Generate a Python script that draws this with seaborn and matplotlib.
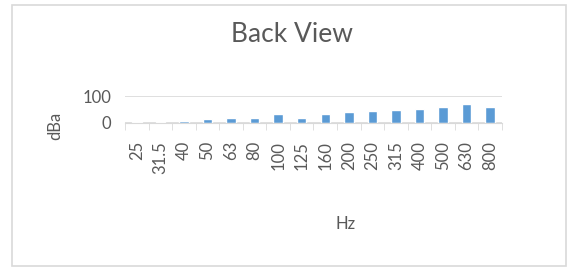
import seaborn as sns
import matplotlib.pyplot as plt
import matplotlib.patches as patches
import pandas as pd

# data
freqs = ["25", "31.5", "40", "50", "63", "80", "100", "125", "160",
         "200", "250", "315", "400", "500", "630", "800"]
dba = [5, 4, 6, 15, 17, 20, 35, 20, 32, 39, 45, 47, 52, 59, 70, 61]

df = pd.DataFrame({"Hz": freqs, "dBa": dba})

sns.set_style("white")
plt.rcParams["font.family"] = ["Lato", "DejaVu Sans"]

fig = plt.figure(figsize=(5.71, 2.69), dpi=100)
ax = fig.add_axes([0.219, 0.543, 0.66, 0.1])

sns.barplot(data=df, x="Hz", y="dBa", color="#5B9BD5", width=0.4,
            saturation=1, ax=ax)

ax.set_ylim(0, 100)
ax.set_yticks([0, 100])
ax.set_xlim(-0.5, len(freqs) - 0.5)
ax.yaxis.grid(True, color="#D9D9D9", linewidth=1.2)
ax.set_axisbelow(True)
for s in ["top", "right", "left"]:
    ax.spines[s].set_visible(False)
ax.spines["bottom"].set_color("#D9D9D9")

# category boundary tick marks like Excel
ax.set_xticks([i - 0.5 for i in range(len(freqs) + 1)], minor=True)
ax.tick_params(axis="x", which="minor", length=5, color="#D9D9D9", bottom=True)
ax.tick_params(axis="x", which="major", length=0, pad=13)
ax.tick_params(axis="y", length=0, labelsize=12, labelcolor="#595959", pad=10)
ax.set_xticks(range(len(freqs)))
ax.set_xticklabels(freqs, rotation=90, fontsize=12, color="#595959", va="top")

ax.set_xlabel("Hz", fontsize=12, color="#595959")
ax.set_ylabel("dBa", fontsize=12, color="#595959")
ax.xaxis.set_label_coords(0.584, -3.45)
ax.yaxis.set_label_coords(-0.165, -0.1)

fig.text(0.512, 0.87, "Back View", ha="center", va="center",
         fontsize=19, color="#595959")

fig.patches.append(patches.Rectangle((0.021, 0.011), 0.97, 0.97,
                                     transform=fig.transFigure, fill=False,
                                     edgecolor="#D9D9D9", linewidth=1.2))

plt.savefig("out.png", dpi=100)
plt.close()
